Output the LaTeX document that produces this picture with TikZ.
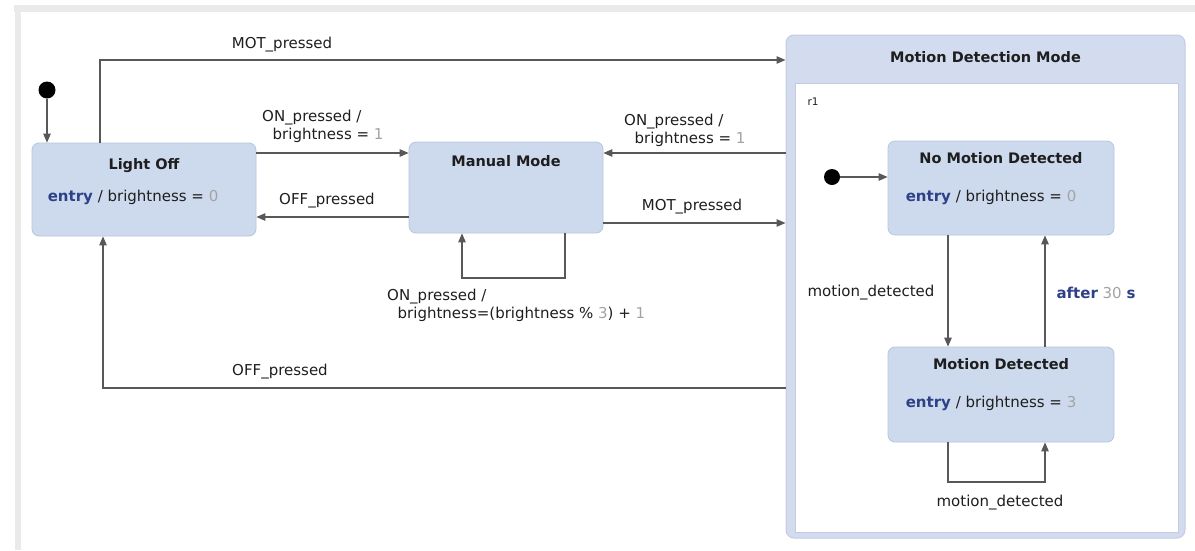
\documentclass[tikz,border=0pt]{standalone}
\usepackage{fontspec}
\setmainfont{DejaVu Sans}
\usetikzlibrary{arrows.meta,calc}
\definecolor{statefill}{HTML}{CDDAEE}
\definecolor{stateline}{HTML}{B7C6DE}
\definecolor{compline}{HTML}{C3CBE3}
\definecolor{compfill}{HTML}{D2DCEE}
\definecolor{kw}{HTML}{2E4187}
\definecolor{num}{HTML}{A3A3A3}
\definecolor{wire}{HTML}{585858}
\definecolor{txt}{HTML}{1E1E1E}
\definecolor{frame}{HTML}{EAEAEA}
\newcommand{\kwd}[1]{\textcolor{kw}{\bfseries #1}}
\newcommand{\nm}[1]{\textcolor{num}{#1}}
\tikzset{
  statebox/.style={draw=stateline, line width=0.8pt, fill=statefill, rounded corners=7pt, inner sep=0pt},
  ttl/.style={font=\fontsize{14.5}{17}\selectfont\bfseries, text=txt, inner sep=0pt},
  act/.style={font=\fontsize{15}{18}\selectfont, text=txt, inner sep=0pt, anchor=west},
  lbl/.style={font=\fontsize{15}{18}\selectfont, text=txt, inner sep=0pt},
  tr/.style={draw=wire, line width=1.2pt, -{Triangle[length=9pt,width=7.5pt]}},
  initdot/.style={circle, fill=black, inner sep=0pt, minimum size=17pt},
}
\begin{document}
\begin{tikzpicture}[x=1pt,y=-1pt]
\useasboundingbox (0,0) rectangle (1195,550);
% outer frame edges
\draw[frame, line width=7pt] (14,8.5) -- (1195,8.5);
\draw[frame, line width=6pt] (17.5,8.5) -- (17.5,550);

% composite state
\node[draw=compline, line width=1pt, fill=compfill, rounded corners=8pt, inner sep=0pt,
      minimum width=399pt, minimum height=503pt] (mdm) at (985.5,286.5) {};
\fill[white] (795,83) rectangle (1178,532);
\draw[compline, line width=0.6pt] (795,83) rectangle (1178,532);
\node[ttl] (mdmt) at (985.5,57) {Motion Detection Mode};
\node[lbl, font=\fontsize{10.5}{12}\selectfont] (r1) at (813,102) {r1};

% simple states
\node[statebox, minimum width=224pt, minimum height=93pt] (off) at (144,189.5) {};
\node[ttl] at ($(off.north)+(0,23)$) {Light Off};
\node[act] at ($(off.west)+(16,8)$) {\kwd{entry} / brightness = \nm{0}};

\node[statebox, minimum width=194pt, minimum height=91pt] (man) at (506,187.5) {};
\node[ttl] at ($(man.north)+(0,19)$) {Manual Mode};

\node[statebox, minimum width=226pt, minimum height=94pt] (nmd) at (1001,188) {};
\node[ttl] at ($(nmd.north)+(0,17)$) {No Motion Detected};
\node[act] at ($(nmd.west)+(18,9)$) {\kwd{entry} / brightness = \nm{0}};

\node[statebox, minimum width=226pt, minimum height=95pt] (md) at (1001,394.5) {};
\node[ttl] at ($(md.north)+(0,17)$) {Motion Detected};
\node[act] at ($(md.west)+(18,9)$) {\kwd{entry} / brightness = \nm{3}};

% initial pseudostates
\node[initdot] (i0) at (47,90) {};
\node[initdot, minimum size=16pt] (i1) at (832,177) {};
\draw[tr] (i0) -- (off.north -| i0);
\draw[tr] (i1) -- (nmd.west |- i1);

% transitions among top-level states
\coordinate (motA) at (100,60);
\draw[tr] (off.north -| motA) -- (motA) -- (mdm.west |- motA);
\node[lbl] at (282,45) {MOT\_pressed};

\draw[tr] (off.east |- 0,153) -- (man.west |- 0,153);
\node[lbl, anchor=north west, align=left] at (262,110) {ON\_pressed /\\\hspace*{0.7em}brightness = \nm{1}};

\draw[tr] (man.west |- 0,217) -- (off.east |- 0,217);
\node[lbl] at (327,201) {OFF\_pressed};

\draw[tr] (mdm.west |- 0,153) -- (man.east |- 0,153);
\node[lbl, anchor=north west, align=left] at (624,114) {ON\_pressed /\\\hspace*{0.7em}brightness = \nm{1}};

\draw[tr] (man.east |- 0,223) -- (mdm.west |- 0,223);
\node[lbl] at (692,207) {MOT\_pressed};

\coordinate (loopA) at (565,278);
\coordinate (loopB) at (462,278);
\draw[tr] (man.south -| loopA) -- (loopA) -- (loopB) -- (man.south -| loopB);
\node[lbl, anchor=north west, align=left] at (387,289) {ON\_pressed /\\\hspace*{0.7em}brightness=(brightness \% \nm{3}) + \nm{1}};

\coordinate (offB) at (103,388);
\draw[tr] (mdm.west |- offB) -- (offB) -- (off.south -| offB);
\node[lbl] at (280,372) {OFF\_pressed};

% transitions inside the composite state
\draw[tr] (nmd.south -| 948,0) -- (md.north -| 948,0);
\node[lbl] at (871,293) {motion\_detected};
\draw[tr] (md.north -| 1045,0) -- (nmd.south -| 1045,0);
\node[lbl] at (1096,293) {\kwd{after} \nm{30} \kwd{s}};

\coordinate (mloopA) at (948,482);
\coordinate (mloopB) at (1045,482);
\draw[tr] (md.south -| mloopA) -- (mloopA) -- (mloopB) -- (md.south -| mloopB);
\node[lbl] at (1000,503) {motion\_detected};
\end{tikzpicture}
\end{document}
